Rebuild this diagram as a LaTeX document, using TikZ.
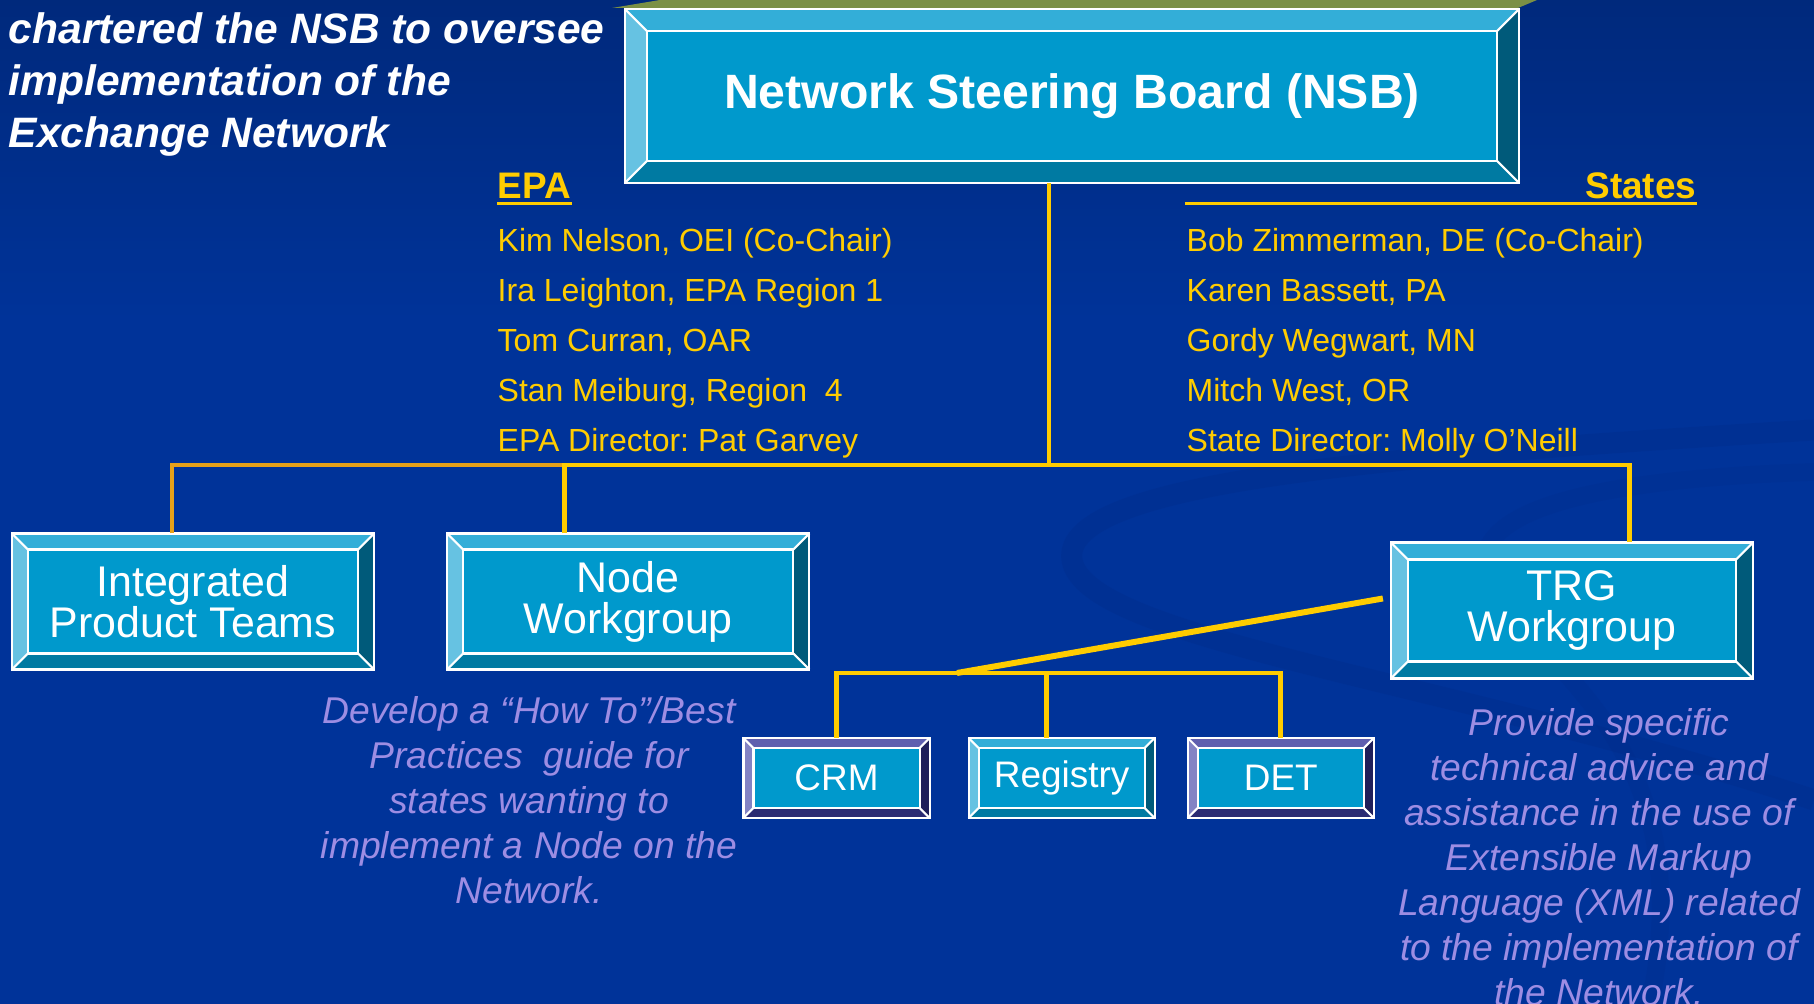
\documentclass[tikz,border=0pt]{standalone}
\usepackage{fontspec}
\setmainfont{Liberation Sans}
\usetikzlibrary{positioning}

\definecolor{slide}{HTML}{003399}
\definecolor{slidetop}{HTML}{00297C}
\definecolor{swirl}{HTML}{002A85}
\definecolor{olive}{HTML}{7B9045}
\definecolor{face}{HTML}{0099CC}
\definecolor{tealtop}{HTML}{33AED8}
\definecolor{tealleft}{HTML}{66C2E2}
\definecolor{tealbot}{HTML}{007AA2}
\definecolor{tealright}{HTML}{005A7A}
\definecolor{purptop}{HTML}{5F5FAF}
\definecolor{purpleft}{HTML}{8383C4}
\definecolor{purpbot}{HTML}{2B2B73}
\definecolor{purpright}{HTML}{1F1F5A}
\definecolor{gold}{HTML}{FFCC00}
\definecolor{amber}{HTML}{E6A118}
\definecolor{lilac}{HTML}{9D8DE3}

\frenchspacing

% bevelled frame round a box node: node, depth, colour set
\newcommand\bevelframe[3]{%
  \fill[#3top] (#1.north west) -- (#1.north east) -- ([shift={(-#2,#2)}]#1.north east) -- ([shift={(#2,#2)}]#1.north west) -- cycle;
  \fill[#3left] (#1.north west) -- ([shift={(#2,#2)}]#1.north west) -- ([shift={(#2,-#2)}]#1.south west) -- (#1.south west) -- cycle;
  \fill[#3bot] (#1.south west) -- ([shift={(#2,-#2)}]#1.south west) -- ([shift={(-#2,-#2)}]#1.south east) -- (#1.south east) -- cycle;
  \fill[#3right] (#1.south east) -- ([shift={(-#2,-#2)}]#1.south east) -- ([shift={(-#2,#2)}]#1.north east) -- (#1.north east) -- cycle;
  \draw[edge] (#1.north west) rectangle (#1.south east);
  \draw[edge] ([shift={(#2,#2)}]#1.north west) rectangle ([shift={(-#2,-#2)}]#1.south east);
  \draw[edge] (#1.north west) -- ++(#2,#2) (#1.north east) -- ++(-#2,#2)
    (#1.south west) -- ++(#2,-#2) (#1.south east) -- ++(-#2,-#2);
}

\begin{document}
\begin{tikzpicture}[
    x=0.01cm, y=-0.01cm,
    board/.style={fill=face, inner sep=0pt, outer sep=0pt, text=white, align=center},
    wgbox/.style={board, minimum width=3.62cm, minimum height=1.36cm,
      font=\fontsize{12.2}{11.7}\selectfont},
    subbox/.style={board, minimum width=1.86cm, minimum height=0.8cm,
      font=\fontsize{10.5}{12}\selectfont},
    member/.style={text=gold, align=left, anchor=north west, inner sep=0pt,
      font=\fontsize{9.1}{14.2}\selectfont},
    head/.style={text=gold, inner sep=0pt, font=\fontsize{10.5}{12}\selectfont\bfseries},
    note/.style={text=lilac, align=center, anchor=north, inner sep=0pt,
      font=\fontsize{10.6}{12.8}\selectfont\itshape},
    edge/.style={white, line width=0.6pt},
    bus/.style={gold, line width=1.4pt},
    feed/.style={amber, line width=1.4pt},
  ]
    % Slide background
    \useasboundingbox (0,0) rectangle (1814,1004);
    \clip (0,0) rectangle (1814,1004);
    \fill[slide] (0,0) rectangle (1814,1004);
    \shade[top color=slidetop, bottom color=slide] (0,0) rectangle (1814,320);
    \draw[swirl, line width=6pt, opacity=0.25] (1814,430) .. controls (1400,455) and (1060,480) .. (1072,560)
      .. controls (1085,640) and (1450,680) .. (1814,800);
    \draw[swirl, line width=5pt, opacity=0.2] (1814,472) .. controls (1560,480) and (1440,520) .. (1500,600)
      .. controls (1560,680) and (1700,760) .. (1650,1004);
    \fill[olive] (612,8) -- (660,0) -- (1537,0) -- (1518,8) -- cycle;

    % Charter text
    \node[anchor=north west, inner sep=0pt, align=left, text=white,
      font=\fontsize{12.1}{14.8}\selectfont\bfseries\itshape] (charter) at (8,12)
      {chartered the NSB to oversee\\implementation of the\\Exchange Network};

    % Board
    \node[board, minimum width=8.94cm, minimum height=1.74cm,
      font=\fontsize{13.7}{16}\selectfont\bfseries] (nsb) at (1072,96) {Network Steering Board (NSB)};
    \bevelframe{nsb}{22}{teal}

    % Members
    \node[head, anchor=base west] (epa) at (497,199) {EPA};
    \draw[gold, line width=1.1pt] ([shift={(0,4.5)}]epa.base west) -- ([shift={(0,4.5)}]epa.base east);
    \node[member] (epalist) at (497,228) {Kim Nelson, OEI (Co-Chair)\\Ira Leighton, EPA Region 1\\
      Tom Curran, OAR\\Stan Meiburg, Region~~4\\EPA Director: Pat Garvey};
    \node[head, anchor=base east] (states) at (1697,199) {States};
    \coordinate (ul) at (1185,203.5);
    \draw[gold, line width=1.1pt] (ul) -- (ul -| states.east);
    \node[member] (statelist) at (1186,228) {Bob Zimmerman, DE (Co-Chair)\\Karen Bassett, PA\\
      Gordy Wegwart, MN\\Mitch West, OR\\State Director: Molly O’Neill};

    % Workgroups
    \node[wgbox] (ipt) at (193,601.5) {Integrated\\Product Teams};
    \node[wgbox, right=0.73cm of ipt] (nodewg) {Node\\Workgroup};
    \node[wgbox] (trg) at (1572,610.5) {TRG\\Workgroup};
    \bevelframe{ipt}{16}{teal}
    \bevelframe{nodewg}{16}{teal}
    \bevelframe{trg}{17}{teal}

    % TRG subgroups
    \node[subbox] (crm) at (836.5,778) {CRM};
    \node[subbox, right=0.39cm of crm] (reg) {Registry};
    \node[subbox, right=0.33cm of reg] (det) {DET};
    \bevelframe{crm}{10}{purp}
    \bevelframe{reg}{10}{teal}
    \bevelframe{det}{10}{purp}

    % Notes
    \node[note] (nodenote) at (529,696) {Develop a “How To”/Best\\Practices~~guide for\\
      states wanting to\\implement a Node on the\\Network.};
    \node[note] (trgnote) at (1599,708) {Provide specific\\technical advice and\\
      assistance in the use of\\Extensible Markup\\Language (XML) related\\
      to the implementation of\\the Network.};

    % Connectors
    \coordinate (hub) at (1049,465);
    \coordinate (tap) at (957,673);
    \coordinate (ipttop) at ([xshift=-0.21cm]ipt.north);
    \coordinate (nwtop) at ([xshift=-0.635cm]nodewg.north);
    \coordinate (trgtop) at ([xshift=0.57cm]trg.north);
    \coordinate (regtop) at ([xshift=-0.15cm]reg.north);
    \draw[feed] (ipttop) |- (nwtop |- hub);
    \draw[bus] (nsb.south -| hub) -- (hub);
    \draw[bus] (nwtop) |- (hub) -| (trgtop);
    \draw[bus] (crm.north) |- (tap) -| (det.north);
    \draw[bus] (regtop) -- (regtop |- tap);
    \draw[bus, line width=1.7pt] (tap) -- ([shift={(-8,-12)}]trg.west);

  \end{tikzpicture}
\end{document}
